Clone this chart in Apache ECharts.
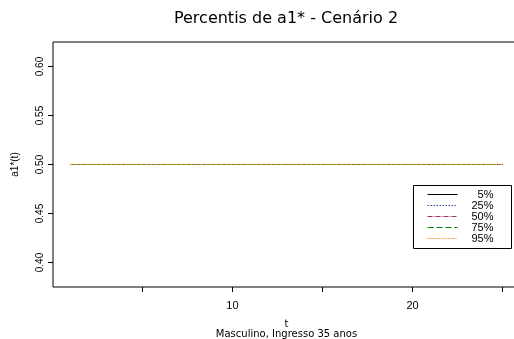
<!DOCTYPE html>
<html><head><meta charset="utf-8">
<script src="https://cdn.jsdelivr.net/npm/echarts@6/dist/echarts.min.js"></script>
<style>html,body{margin:0;padding:0;background:#fff}#c{width:514px;height:339px}</style>
</head><body><div id="c"></div>
<script>
const t = [1,2,3,4,5,6,7,8,9,10,11,12,13,14,15,16,17,18,19,20,21,22,23,24,25];
const p5  = [0.5,0.5,0.5,0.5,0.5,0.5,0.5,0.5,0.5,0.5,0.5,0.5,0.5,0.5,0.5,0.5,0.5,0.5,0.5,0.5,0.5,0.5,0.5,0.5,0.5];
const p25 = [0.5,0.5,0.5,0.5,0.5,0.5,0.5,0.5,0.5,0.5,0.5,0.5,0.5,0.5,0.5,0.5,0.5,0.5,0.5,0.5,0.5,0.5,0.5,0.5,0.5];
const p50 = [0.5,0.5,0.5,0.5,0.5,0.5,0.5,0.5,0.5,0.5,0.5,0.5,0.5,0.5,0.5,0.5,0.5,0.5,0.5,0.5,0.5,0.5,0.5,0.5,0.5];
const p75 = [0.5,0.5,0.5,0.5,0.5,0.5,0.5,0.5,0.5,0.5,0.5,0.5,0.5,0.5,0.5,0.5,0.5,0.5,0.5,0.5,0.5,0.5,0.5,0.5,0.5];
const p95 = [0.5,0.5,0.5,0.5,0.5,0.5,0.5,0.5,0.5,0.5,0.5,0.5,0.5,0.5,0.5,0.5,0.5,0.5,0.5,0.5,0.5,0.5,0.5,0.5,0.5];
const names = ['5%','25%','50%','75%','95%'];
const xTicks = [5,10,15,20,25];
const xLabels = [10,20];
const yTicks = [0.40,0.45,0.50,0.55,0.60];

const styles = [
  {color:'#000000', type:'solid'},
  {color:'#2a4f9c', type:[1.5,1.5]},
  {color:'#a0306e', type:[5,1,1,1]},
  {color:'#008000', type:[6,3]},
  {color:'#ff9933', type:[2,1,1,1]}
];
const seriesData = [p5,p25,p50,p75,p95];
const font = 'Liberation Sans, Arial, sans-serif';
const wide = 'DejaVu Sans, sans-serif';

const chart = echarts.init(document.getElementById('c'), null, {renderer:'canvas'});
chart.setOption({
  animation:false,
  backgroundColor:'#fff',
  title:{text:'Percentis de a1* - Cenário 2', left:286, top:11, textAlign:'center', padding:0,
    textStyle:{fontFamily:wide, fontSize:16, fontWeight:'normal', color:'#000'}},
  grid:{left:53, top:42, width:467, height:245, show:true, borderColor:'#000', borderWidth:1,
    containLabel:false, outerBoundsMode:'none'},
  xAxis:{type:'value', min:0.04, max:25.96,
    name:'t\nMasculino, Ingresso 35 anos', nameLocation:'middle', nameGap:32,
    nameTextStyle:{fontFamily:wide, fontSize:10, color:'#000', lineHeight:10},
    axisLine:{show:false}, splitLine:{show:false},
    axisTick:{show:true, inside:false, length:5, customValues:xTicks, lineStyle:{color:'#000'}},
    axisLabel:{customValues:xLabels, fontFamily:font, fontSize:11, color:'#000', margin:13}},
  yAxis:{type:'value', min:0.375, max:0.625,
    name:'a1*(t)', nameLocation:'middle', nameGap:33, nameRotate:90,
    nameTextStyle:{fontFamily:font, fontSize:10, color:'#000'},
    axisLine:{show:false}, splitLine:{show:false},
    axisTick:{show:true, inside:false, length:5, customValues:yTicks, lineStyle:{color:'#000'}},
    axisLabel:{customValues:yTicks, rotate:90, fontFamily:font, fontSize:10, color:'#000', margin:8,
      formatter:v=>v.toFixed(2)}},
  legend:{orient:'vertical', left:427, top:189, itemWidth:30, itemHeight:11, itemGap:0, padding:0,
    data:names.map((n,i)=>({name:n, itemStyle:{opacity:0},
      lineStyle:{color:styles[i].color, type:styles[i].type, width:1, opacity:1}})),
    formatter:n=>'{a|'+n+'}',
    textStyle:{fontFamily:font, fontSize:11, color:'#000',
      rich:{a:{width:31, align:'right', fontFamily:font, fontSize:11, lineHeight:11, color:'#000'}}}},
  graphic:[{type:'rect', shape:{x:413.5, y:185.5, width:98, height:63},
    style:{fill:null, stroke:'#000', lineWidth:1}, z:100, silent:true}],
  series: names.map((n,i)=>({
    name:n, type:'line', showSymbol:false, symbol:'none',
    data:t.map((x,j)=>[x, seriesData[i][j]]),
    lineStyle:{color:styles[i].color, type:styles[i].type, width:1},
    itemStyle:{color:styles[i].color}
  }))
});
</script></body></html>
